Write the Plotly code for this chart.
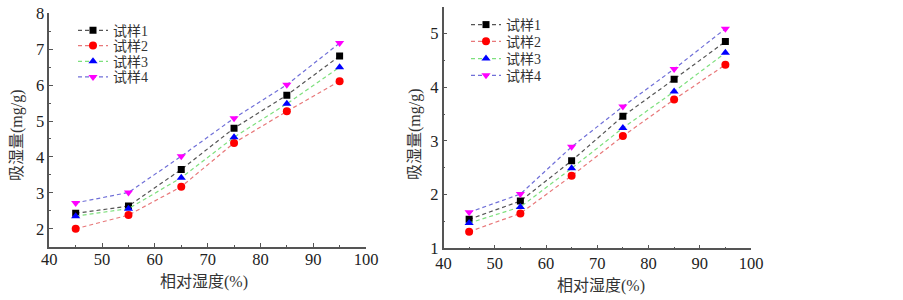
import plotly.graph_objects as go

rh = [45, 55, 65, 75, 85, 95]
names = ["试样1", "试样2", "试样3", "试样4"]

# left chart
left_s1 = [2.43, 2.63, 3.65, 4.80, 5.72, 6.81]
left_s2 = [2.00, 2.38, 3.17, 4.39, 5.27, 6.11]
left_s3 = [2.35, 2.56, 3.42, 4.55, 5.48, 6.50]
left_s4 = [2.72, 3.01, 4.02, 5.08, 6.01, 7.17]

# right chart
right_s1 = [1.54, 1.88, 2.63, 3.46, 4.15, 4.85]
right_s2 = [1.31, 1.65, 2.35, 3.09, 3.77, 4.42]
right_s3 = [1.47, 1.77, 2.49, 3.24, 3.92, 4.64]
right_s4 = [1.67, 2.01, 2.89, 3.64, 4.34, 5.09]

line_colors = ["#555555", "#e8787a", "#7ee07e", "#7070d8"]
marker_colors = ["#000000", "#ff0000", "#0000ff", "#ff00ff"]
symbols = ["square", "circle", "triangle-up", "triangle-down"]
sizes = [7, 8, 8, 8]

FONT = "Liberation Serif, 'Times New Roman', 'Noto Sans CJK SC', serif"
W, H = 903, 300

fig = go.Figure()
legend_layouts = {}
left_rows = [30.7, 46.0, 61.7, 77.3]
right_rows = [25.0, 41.7, 59.0, 75.7]


def legend_cfg(x, y):
    return dict(x=x / W, y=1 - y / H, xanchor="left", yanchor="middle",
                bgcolor="rgba(0,0,0,0)", visible=True,
                font=dict(family=FONT, size=14, color="#333333"),
                itemwidth=30)


for i, ys in enumerate([left_s1, left_s2, left_s3, left_s4]):
    lname = f"legend{i + 2}"
    fig.add_trace(go.Scatter(
        x=rh, y=ys, name=names[i], mode="lines+markers",
        line=dict(color=line_colors[i], width=1.2, dash="4px,3px"),
        marker=dict(color=marker_colors[i], symbol=symbols[i], size=sizes[i]),
        xaxis="x", yaxis="y", legend=lname, showlegend=True))
    legend_layouts[lname] = legend_cfg(73, left_rows[i])
for i, ys in enumerate([right_s1, right_s2, right_s3, right_s4]):
    lname = f"legend{i + 6}"
    fig.add_trace(go.Scatter(
        x=rh, y=ys, name=names[i], mode="lines+markers",
        line=dict(color=line_colors[i], width=1.2, dash="4px,3px"),
        marker=dict(color=marker_colors[i], symbol=symbols[i], size=sizes[i]),
        xaxis="x2", yaxis="y2", legend=lname, showlegend=True))
    legend_layouts[lname] = legend_cfg(466, right_rows[i])

axis_common = dict(
    showline=True, linecolor="#555555", linewidth=1.5, mirror=False,
    ticks="inside", ticklen=4, tickwidth=1.2, tickcolor="#555555",
    showgrid=False, zeroline=False, automargin=False,
    tickfont=dict(family=FONT, size=16.5, color="#222222"),
)
minor = dict(ticks="inside", ticklen=2, tickwidth=1, tickcolor="#555555", showgrid=False)

title_font = dict(family=FONT, size=16, color="#333333")

fig.update_layout(
    width=W, height=H,
    margin=dict(l=0, r=0, t=0, b=0),
    paper_bgcolor="white", plot_bgcolor="white",
    font=dict(family=FONT, color="#222222"),
    showlegend=True,
    xaxis=dict(domain=[49.3 / W, 366 / W], range=[40, 100], dtick=10, tick0=40,
               anchor="y", ticklabelstandoff=-3, minor=dict(dtick=5, **minor), **axis_common),
    yaxis=dict(domain=[1 - 246.7 / H, 1 - 13.3 / H], range=[1.5, 8], dtick=1, tick0=0,
               anchor="x", minor=dict(dtick=0.5, **minor), **axis_common),
    xaxis2=dict(domain=[443.5 / W, 751 / W], range=[40, 100], dtick=10, tick0=40,
                anchor="y2", ticklabelstandoff=-1, minor=dict(dtick=5, **minor), **axis_common),
    yaxis2=dict(domain=[1 - 248.3 / H, 1 - 6.7 / H], range=[1, 5.5], dtick=1, tick0=0,
                anchor="x2", minor=dict(dtick=0.5, **minor), **axis_common),
    annotations=[
        dict(text="相对湿度(%)", x=204 / W, y=1 - 282 / H, xref="paper", yref="paper",
             xanchor="center", yanchor="middle", showarrow=False, font=title_font),
        dict(text="相对湿度(%)", x=601 / W, y=1 - 286 / H, xref="paper", yref="paper",
             xanchor="center", yanchor="middle", showarrow=False, font=title_font),
        dict(text="吸湿量(mg/g)", x=17 / W, y=1 - 135 / H, xref="paper", yref="paper",
             xanchor="center", yanchor="middle", showarrow=False, textangle=-90, font=title_font),
        dict(text="吸湿量(mg/g)", x=415 / W, y=1 - 134 / H, xref="paper", yref="paper",
             xanchor="center", yanchor="middle", showarrow=False, textangle=-90, font=title_font),
    ],
    **legend_layouts,
)

fig.write_html("out.html", config={"displayModeBar": False},
               post_script="document.body.style.margin='0';")
